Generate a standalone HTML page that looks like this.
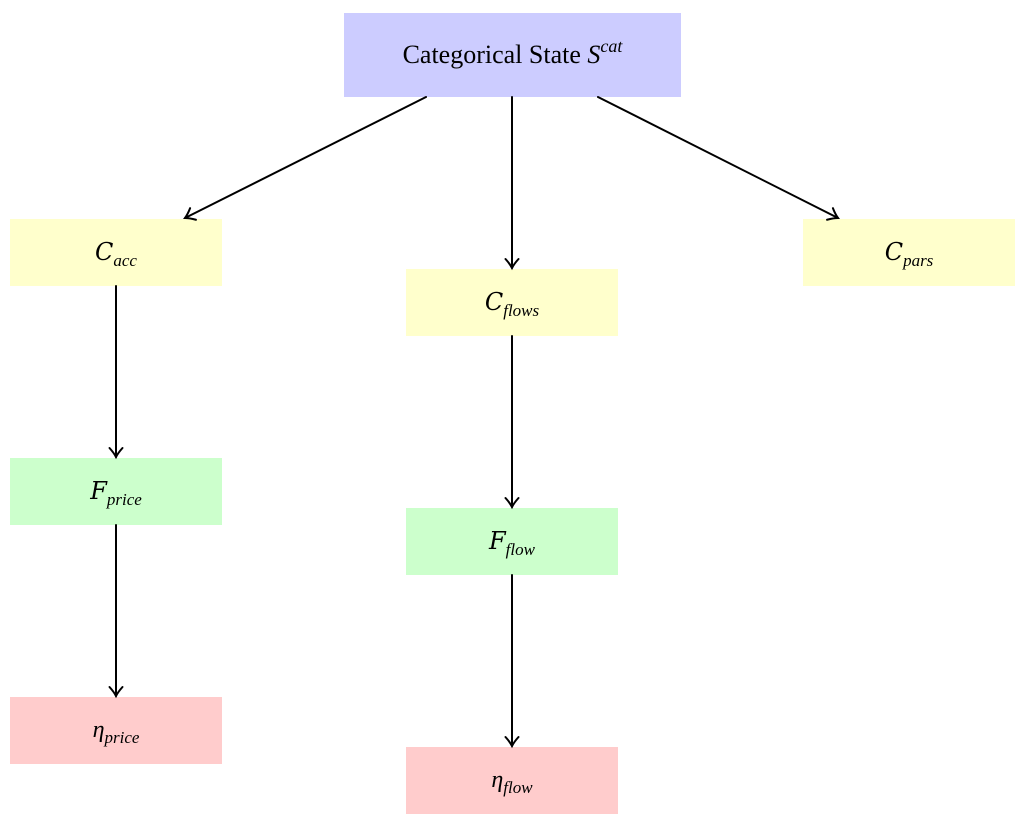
<!DOCTYPE html>
<html><head><meta charset="utf-8"><style>
html,body{margin:0;padding:0;background:#fff;}
body{width:1017px;height:819px;position:relative;overflow:hidden;font-family:"Liberation Serif",serif;}
.b{position:absolute;display:flex;align-items:center;justify-content:center;font-size:24px;color:#000;}
.y{background:#ffffcc}.g{background:#ccffcc}.r{background:#ffcccc}
i{font-style:italic}
.s{font-size:17px;font-style:italic;position:relative;top:6px}
.cal{font-family:"DejaVu Serif",serif;font-style:italic}
svg{position:absolute;left:0;top:0}
</style></head><body>
<div class="b" style="left:344px;top:13px;width:337px;height:84px;background:#ccccff;font-size:26px;"><span>Categorical State <i>S</i><span style="font-size:18px;font-style:italic;position:relative;top:-11px">cat</span></span></div>
<div class="b y" style="left:10px;top:219px;width:212px;height:67px;"><span><span class="cal">C</span><span class="s">acc</span></span></div>
<div class="b y" style="left:406px;top:269px;width:212px;height:67px;"><span><span class="cal">C</span><span class="s">flows</span></span></div>
<div class="b y" style="left:803px;top:219px;width:212px;height:67px;"><span><span class="cal">C</span><span class="s">pars</span></span></div>
<div class="b g" style="left:10px;top:458px;width:212px;height:67px;"><span><span class="cal">F</span><span class="s">price</span></span></div>
<div class="b g" style="left:406px;top:508px;width:212px;height:67px;"><span><span class="cal">F</span><span class="s">flow</span></span></div>
<div class="b r" style="left:10px;top:697px;width:212px;height:67px;"><span><i>η</i><span class="s">price</span></span></div>
<div class="b r" style="left:406px;top:747px;width:212px;height:67px;"><span><i>η</i><span class="s">flow</span></span></div>
<svg width="1017" height="819" fill="none" stroke="#000" stroke-width="2" stroke-linecap="round">
<defs><marker id="a" markerWidth="16" markerHeight="16" refX="13" refY="8" orient="auto" markerUnits="userSpaceOnUse"><path d="M4,1.5 Q9,6 13,8 Q9,10 4,14.5" stroke="#000" stroke-width="2" fill="none"/></marker></defs>
<line x1="426" y1="97" x2="185" y2="218" marker-end="url(#a)"/>
<line x1="512" y1="97" x2="512" y2="268" marker-end="url(#a)"/>
<line x1="598" y1="97" x2="838" y2="218" marker-end="url(#a)"/>
<line x1="116" y1="286" x2="116" y2="457" marker-end="url(#a)"/>
<line x1="116" y1="525" x2="116" y2="696" marker-end="url(#a)"/>
<line x1="512" y1="336" x2="512" y2="507" marker-end="url(#a)"/>
<line x1="512" y1="575" x2="512" y2="746" marker-end="url(#a)"/>
</svg>
</body></html>
